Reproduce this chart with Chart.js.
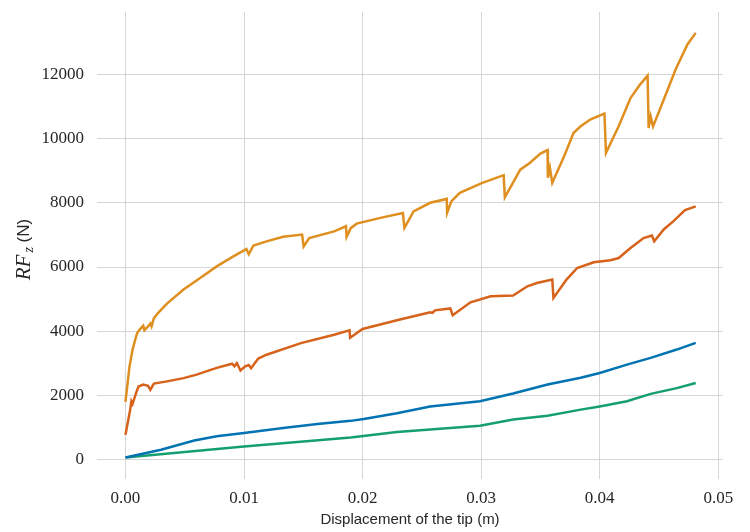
<!DOCTYPE html>
<html>
<head>
<meta charset="utf-8">
<script src="https://cdn.jsdelivr.net/npm/chart.js@4/dist/chart.umd.min.js"></script>
<style>
  html, body { margin: 0; padding: 0; background: #fff; }
  #wrap { width: 750px; height: 532px; position: relative; }
</style>
</head>
<body>
<div id="wrap"><canvas id="chart"></canvas></div>
<script>
// tick values
const xTicks = [0, 0.01, 0.02, 0.03, 0.04, 0.05];
const yTicks = [0, 2000, 4000, 6000, 8000, 10000, 12000];

// blue
const xBlue = [0, 0.003, 0.0058, 0.0077, 0.010, 0.0133, 0.0162, 0.019, 0.0201, 0.0229, 0.0257, 0.0299, 0.0327, 0.0356, 0.0384, 0.0400, 0.0423, 0.0443, 0.0465, 0.0481];
const yBlue = [70, 310, 600, 730, 830, 990, 1110, 1210, 1270, 1450, 1660, 1820, 2060, 2340, 2550, 2700, 2960, 3170, 3430, 3640];

// orange
const xOrange = [0, 0.00034, 0.0006, 0.0009, 0.001, 0.0012, 0.0015, 0.0016, 0.0019, 0.0021, 0.0022, 0.0024, 0.0028, 0.0035, 0.0049, 0.0063, 0.0077, 0.0091, 0.0100, 0.0102, 0.0104, 0.0108, 0.0119, 0.0133, 0.0149, 0.01503, 0.0155, 0.0176, 0.0186, 0.01865, 0.019, 0.0195, 0.0215, 0.0234, 0.02353, 0.0243, 0.0257, 0.0271, 0.02713, 0.0275, 0.0282, 0.0301, 0.0319, 0.0320, 0.0333, 0.0341, 0.035, 0.0356, 0.03563, 0.0358, 0.0360, 0.037, 0.0378, 0.0384, 0.0392, 0.0404, 0.04053, 0.0416, 0.0426, 0.0434, 0.04404, 0.04413, 0.0443, 0.0445, 0.0454, 0.0464, 0.0474, 0.0481];
const yOrange = [1800, 2900, 3430, 3840, 3950, 4050, 4170, 4030, 4150, 4240, 4150, 4410, 4590, 4860, 5300, 5660, 6020, 6330, 6520, 6560, 6400, 6670, 6800, 6940, 7010, 6640, 6900, 7110, 7270, 6940, 7210, 7350, 7530, 7680, 7220, 7730, 8000, 8120, 7690, 8050, 8310, 8620, 8860, 8170, 9030, 9240, 9530, 9640, 8780, 9090, 8620, 9450, 10180, 10380, 10590, 10780, 9550, 10380, 11260, 11680, 11960, 10330, 10690, 10380, 11210, 12150, 12930, 13290];

// green
const xGreen = [0, 0.010, 0.019, 0.0229, 0.0299, 0.0327, 0.0356, 0.0384, 0.0400, 0.0423, 0.0443, 0.0465, 0.0481];
const yGreen = [70, 410, 690, 860, 1060, 1250, 1370, 1560, 1660, 1820, 2050, 2230, 2390];

// red
const xRed = [0, 0.0004, 0.0005, 0.0006, 0.0009, 0.0011, 0.0015, 0.0019, 0.0021, 0.0024, 0.0035, 0.0049, 0.006, 0.0077, 0.009, 0.0092, 0.0094, 0.0097, 0.0101, 0.0104, 0.0106, 0.0112, 0.0119, 0.0148, 0.0176, 0.0189, 0.01895, 0.0200, 0.0229, 0.0257, 0.0259, 0.0261, 0.0274, 0.0276, 0.0291, 0.0308, 0.0327, 0.0339, 0.0347, 0.0360, 0.0361, 0.0372, 0.0381, 0.0395, 0.0409, 0.0416, 0.0426, 0.0437, 0.0444, 0.0446, 0.0454, 0.0462, 0.0472, 0.0481];
const yRed = [780, 1560, 1820, 1740, 2080, 2280, 2340, 2300, 2180, 2370, 2440, 2540, 2650, 2860, 2990, 2910, 3010, 2780, 2910, 2950, 2850, 3150, 3270, 3630, 3890, 4030, 3800, 4070, 4340, 4590, 4570, 4650, 4710, 4500, 4900, 5090, 5110, 5400, 5500, 5610, 5040, 5610, 5970, 6150, 6210, 6280, 6590, 6900, 6980, 6800, 7170, 7420, 7770, 7890];

const COLORS = {
  blue: "#0173b2",
  orange: "#df8f1f",
  green: "#169e73",
  red: "#d7621a",
  grid: "#d6d6d6",
  text: "#262626"
};

function toPoints(xs, ys) {
  return xs.map((x, i) => ({ x, y: ys[i] }));
}

function lineSet(label, xs, ys, color) {
  return {
    label,
    data: toPoints(xs, ys),
    borderColor: color,
    backgroundColor: color,
    borderWidth: 2.5,
    pointRadius: 0,
    tension: 0,
    fill: false
  };
}

// y-axis title with italic RF and subscript z
const yTitlePlugin = {
  id: "yTitlePlugin",
  afterDraw(chart) {
    const ctx = chart.ctx;
    ctx.save();
    ctx.translate(24, 249.5);
    ctx.rotate(-Math.PI / 2);
    ctx.fillStyle = COLORS.text;
    ctx.textBaseline = "middle";
    const f1 = 'italic 21px "Liberation Serif", serif';
    const f2 = 'italic 14px "Liberation Serif", serif';
    const f3 = '17px "Liberation Sans", sans-serif';
    ctx.font = f1; const w1 = ctx.measureText("RF").width + 2;
    ctx.font = f2; const w2 = ctx.measureText("z").width;
    ctx.font = f3; const w3 = ctx.measureText(" (N)").width;
    let x = -(w1 + w2 + w3) / 2;
    ctx.textAlign = "left";
    ctx.font = f1; ctx.fillText("RF", x, 0); x += w1;
    ctx.font = f2; ctx.fillText("z", x, 5); x += w2;
    ctx.font = f3; ctx.fillText(" (N)", x, 0);
    ctx.restore();
  }
};

new Chart(document.getElementById("chart"), {
  type: "line",
  data: {
    datasets: [
      lineSet("blue", xBlue, yBlue, COLORS.blue),
      lineSet("orange", xOrange, yOrange, COLORS.orange),
      lineSet("green", xGreen, yGreen, COLORS.green),
      lineSet("red", xRed, yRed, COLORS.red)
    ]
  },
  options: {
    responsive: true,
    maintainAspectRatio: false,
    animation: false,
    layout: { padding: { top: 12, right: 27, left: 0, bottom: 0 } },
    plugins: {
      legend: { display: false },
      tooltip: { enabled: false }
    },
    scales: {
      x: {
        type: "linear",
        min: -0.0024,
        max: 0.0504,
        afterBuildTicks: (s) => { s.ticks = xTicks.map((v) => ({ value: v })); },
        afterFit: (s) => { s.height = 53; s.paddingLeft = 0; s.paddingRight = 0; },
        grid: { color: COLORS.grid, lineWidth: 1, drawTicks: false },
        border: { display: false },
        ticks: {
          autoSkip: false,
          maxRotation: 0,
          padding: 9,
          color: COLORS.text,
          font: { family: '"Liberation Serif", serif', size: 17 },
          callback: (v) => Number(v).toFixed(2)
        },
        title: {
          display: true,
          text: "Displacement of the tip (m)",
          color: COLORS.text,
          font: { family: '"Liberation Sans", sans-serif', size: 15 },
          padding: { top: 0, bottom: 3 }
        }
      },
      y: {
        type: "linear",
        min: -600,
        max: 13940,
        afterBuildTicks: (s) => { s.ticks = yTicks.map((v) => ({ value: v })); },
        afterFit: (s) => { s.width = 97; s.paddingTop = 0; s.paddingBottom = 0; },
        grid: { color: COLORS.grid, lineWidth: 1, drawTicks: false },
        border: { display: false },
        ticks: {
          autoSkip: false,
          padding: 13,
          color: COLORS.text,
          font: { family: '"Liberation Serif", serif', size: 17 },
          callback: (v) => String(v)
        }
      }
    }
  },
  plugins: [yTitlePlugin]
});
</script>
</body>
</html>
